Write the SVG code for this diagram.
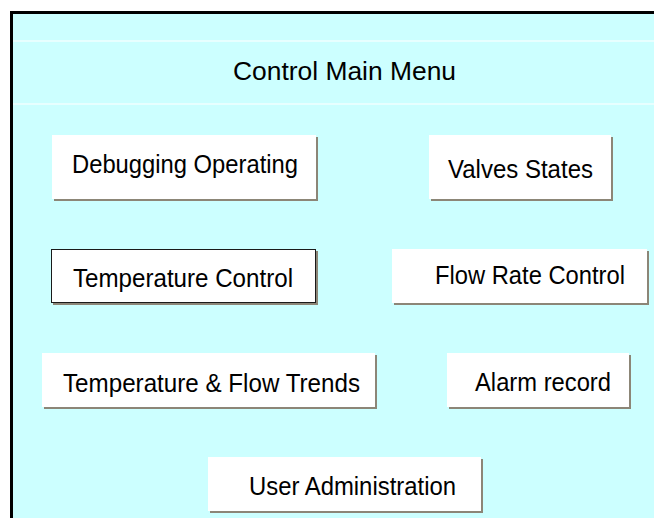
<svg xmlns="http://www.w3.org/2000/svg" width="654" height="518" viewBox="0 0 654 518">
<style>
.sh{fill:#8C8677}
.btn{fill:#FFFFFF}
.lbl{font-family:"Liberation Sans",Arial,sans-serif;font-size:25px;fill:#000}
.ttl{font-family:"Liberation Sans",Arial,sans-serif;font-size:26px;fill:#000}
.sep{stroke:#F0FFFF;stroke-width:1.5}
</style>
<rect x="0" y="0" width="654" height="518" fill="#FFFFFF"/>
<g id="frame">
<rect x="10" y="11" width="644" height="507" fill="#000"/>
<rect x="13" y="14" width="641" height="504" fill="#CCFFFF"/>
<line class="sep" x1="13" y1="41" x2="654" y2="41"/>
<line class="sep" x1="13" y1="104" x2="654" y2="104"/>
<text class="ttl" x="233" y="80" textLength="223" lengthAdjust="spacingAndGlyphs">Control Main Menu</text>
</g>
<g id="debugging">
<rect class="sh" x="54" y="137" width="264" height="64"/>
<rect class="btn" x="52" y="135" width="264" height="64"/>
<text class="lbl" x="72" y="173" textLength="226" lengthAdjust="spacingAndGlyphs">Debugging Operating</text>
</g>
<g id="valves">
<rect class="sh" x="431" y="137" width="182" height="64"/>
<rect class="btn" x="429" y="135" width="182" height="64"/>
<text class="lbl" x="448" y="178" textLength="145" lengthAdjust="spacingAndGlyphs">Valves States</text>
</g>
<g id="temperature">
<rect class="sh" x="53" y="251" width="265" height="54"/>
<rect class="btn" x="51.5" y="249.5" width="264" height="53" stroke="#1A1A1A" stroke-width="1"/>
<text class="lbl" x="73" y="287" textLength="220" lengthAdjust="spacingAndGlyphs">Temperature Control</text>
</g>
<g id="flow">
<rect class="sh" x="394" y="251" width="255" height="54"/>
<rect class="btn" x="392" y="249" width="255" height="54"/>
<text class="lbl" x="435" y="284" textLength="190" lengthAdjust="spacingAndGlyphs">Flow Rate Control</text>
</g>
<g id="trends">
<rect class="sh" x="44" y="355" width="333" height="54"/>
<rect class="btn" x="42" y="353" width="333" height="54"/>
<text class="lbl" x="63" y="392" textLength="297" lengthAdjust="spacingAndGlyphs">Temperature &amp; Flow Trends</text>
</g>
<g id="alarm">
<rect class="sh" x="449" y="355" width="182" height="54"/>
<rect class="btn" x="447" y="353" width="182" height="54"/>
<text class="lbl" x="475" y="391" textLength="136" lengthAdjust="spacingAndGlyphs">Alarm record</text>
</g>
<g id="user">
<rect class="sh" x="210" y="459" width="273" height="54"/>
<rect class="btn" x="208" y="457" width="273" height="54"/>
<text class="lbl" x="249" y="495" textLength="207" lengthAdjust="spacingAndGlyphs">User Administration</text>
</g>
<g id="connectors"></g>
</svg>
